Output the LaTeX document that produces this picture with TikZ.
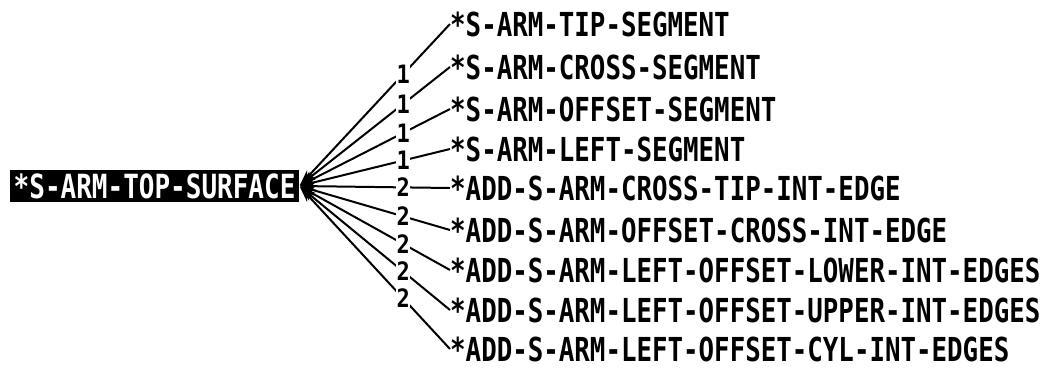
\documentclass[tikz,border=0pt]{standalone}
\usepackage{fontspec}
\setmonofont{DejaVu Sans Mono}
\usetikzlibrary{arrows.meta}
\newcommand{\tallt}[1]{\scalebox{1}[1.28]{#1}}
\newcommand{\talld}[1]{\scalebox{1}[1.15]{#1}}
\begin{document}
\begin{tikzpicture}[x=1pt,y=-1pt,
  lbl/.style={font=\fontsize{25.8}{26}\selectfont\ttfamily\bfseries, inner sep=0pt, anchor=west},
  rootbox/.style={font=\fontsize{26}{26}\selectfont\ttfamily\bfseries, anchor=west, fill=black, text=white, inner xsep=3.5pt, inner ysep=3pt},
  num/.style={font=\fontsize{22}{22}\selectfont\ttfamily\bfseries, fill=white, inner sep=0.3pt, pos=0.31},
  conn/.style={line width=2pt, -{Stealth[length=16pt,width=10pt]}, shorten >=1pt}]
\useasboundingbox (0,0) rectangle (1050,370);
\node[rootbox] (root) at (10,186) {\tallt{*S-ARM-TOP-SURFACE}};
\node[lbl] (c1) at (450,24) {\tallt{*S-ARM-TIP-SEGMENT}};
\node[lbl] (c2) at (450,67) {\tallt{*S-ARM-CROSS-SEGMENT}};
\node[lbl] (c3) at (450,109) {\tallt{*S-ARM-OFFSET-SEGMENT}};
\node[lbl] (c4) at (450,149) {\tallt{*S-ARM-LEFT-SEGMENT}};
\node[lbl] (c5) at (450,188) {\tallt{*ADD-S-ARM-CROSS-TIP-INT-EDGE}};
\node[lbl] (c6) at (450,230) {\tallt{*ADD-S-ARM-OFFSET-CROSS-INT-EDGE}};
\node[lbl] (c7) at (450,270) {\tallt{*ADD-S-ARM-LEFT-OFFSET-LOWER-INT-EDGES}};
\node[lbl] (c8) at (450,310) {\tallt{*ADD-S-ARM-LEFT-OFFSET-UPPER-INT-EDGES}};
\node[lbl] (c9) at (450,349) {\tallt{*ADD-S-ARM-LEFT-OFFSET-CYL-INT-EDGES}};
\draw[conn] (c1.west) -- node[num] {\talld{1}} (root.east);
\draw[conn] (c2.west) -- node[num] {\talld{1}} (root.east);
\draw[conn] (c3.west) -- node[num] {\talld{1}} (root.east);
\draw[conn] (c4.west) -- node[num] {\talld{1}} (root.east);
\draw[conn] (c5.west) -- node[num] {\talld{2}} (root.east);
\draw[conn] (c6.west) -- node[num] {\talld{2}} (root.east);
\draw[conn] (c7.west) -- node[num] {\talld{2}} (root.east);
\draw[conn] (c8.west) -- node[num] {\talld{2}} (root.east);
\draw[conn] (c9.west) -- node[num] {\talld{2}} (root.east);
\end{tikzpicture}
\end{document}
